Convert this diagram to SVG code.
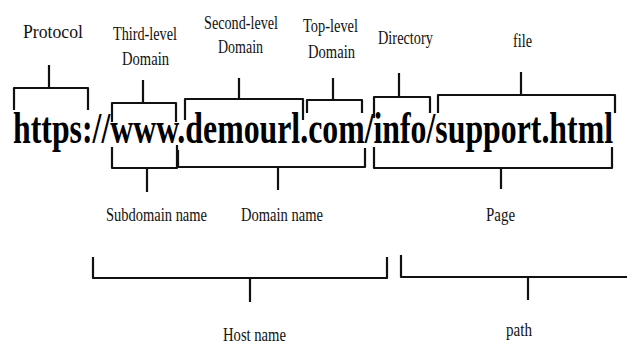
<svg xmlns="http://www.w3.org/2000/svg" width="627" height="356" viewBox="0 0 627 356">
<style>
.lbl{font-family:"Liberation Serif","Times New Roman",serif;font-size:19px;fill:#111;}
.url{font-family:"Liberation Serif","Times New Roman",serif;font-size:44px;font-weight:bold;fill:#000;}
.br{fill:none;stroke:#111;stroke-width:2.2;stroke-linejoin:round;stroke-linecap:butt;}
</style>
<rect width="627" height="356" fill="#fff"/>
<g id="url"><text class="url" x="13" y="143" textLength="600" lengthAdjust="spacingAndGlyphs">https://www.demourl.com/info/support.html</text></g>
<g id="connectors">
<path class="br" d="M14,110 V88 H88 V110 M49,88 V65"/>
<path class="br" d="M112,122 V103 H176 V122 M143,103 V80"/>
<path class="br" d="M185,120 V99 H303 V120 M239,99 V78"/>
<path class="br" d="M307,113 V100 H362 V113 M333,100 V78"/>
<path class="br" d="M374,118 V97 H430 V113 M399,97 V73"/>
<path class="br" d="M438,113 V95 H615 V113 M521,95 V72"/>
<path class="br" d="M112,147 V168 H177 V145 M147,168 V192"/>
<path class="br" d="M178,150 V167 H365 V148 M278,167 V190"/>
<path class="br" d="M374,147 V168 H612 V147 M501,168 V189"/>
<path class="br" d="M93,257 V278 H387 V257 M250,278 V302"/>
<path class="br" d="M401,255 V277 H628 M528,277 V300"/>
</g>
<g id="protocol"><text class="lbl" x="23" y="38" textLength="60" lengthAdjust="spacingAndGlyphs">Protocol</text></g>
<g id="third-level"><text class="lbl" x="113" y="40" textLength="64" lengthAdjust="spacingAndGlyphs">Third-level</text><text class="lbl" x="122" y="65" textLength="47" lengthAdjust="spacingAndGlyphs">Domain</text></g>
<g id="second-level"><text class="lbl" x="204" y="29" textLength="74" lengthAdjust="spacingAndGlyphs">Second-level</text><text class="lbl" x="218" y="53" textLength="45" lengthAdjust="spacingAndGlyphs">Domain</text></g>
<g id="top-level"><text class="lbl" x="303" y="32" textLength="55" lengthAdjust="spacingAndGlyphs">Top-level</text><text class="lbl" x="308" y="58" textLength="47" lengthAdjust="spacingAndGlyphs">Domain</text></g>
<g id="directory"><text class="lbl" x="378" y="44" textLength="55" lengthAdjust="spacingAndGlyphs">Directory</text></g>
<g id="file"><text class="lbl" x="513" y="47" textLength="19" lengthAdjust="spacingAndGlyphs">file</text></g>
<g id="subdomain"><text class="lbl" x="106" y="221" textLength="101" lengthAdjust="spacingAndGlyphs">Subdomain name</text></g>
<g id="domain"><text class="lbl" x="241" y="221" textLength="82" lengthAdjust="spacingAndGlyphs">Domain name</text></g>
<g id="page"><text class="lbl" x="486" y="221" textLength="29" lengthAdjust="spacingAndGlyphs">Page</text></g>
<g id="host"><text class="lbl" x="223" y="341" textLength="63" lengthAdjust="spacingAndGlyphs">Host name</text></g>
<g id="path"><text class="lbl" x="506" y="336" textLength="26" lengthAdjust="spacingAndGlyphs">path</text></g>
</svg>
